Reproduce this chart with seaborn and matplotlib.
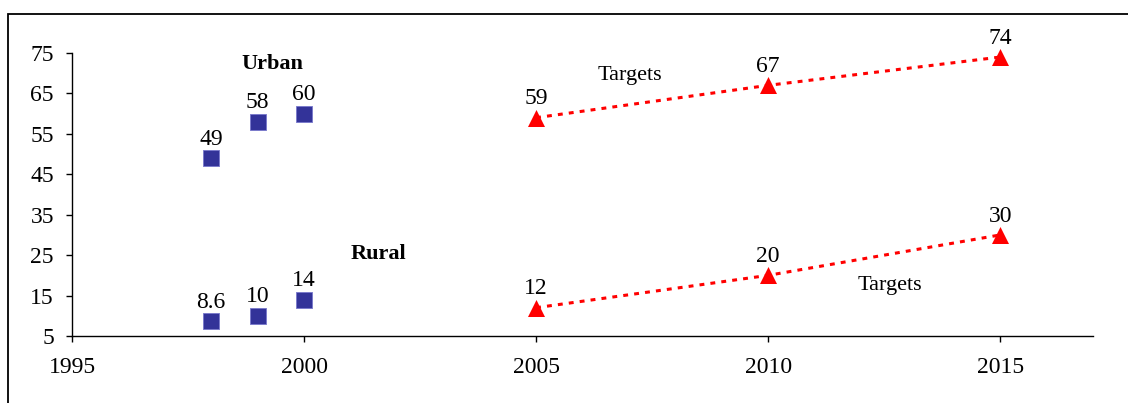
import matplotlib
matplotlib.use("Agg")
import matplotlib.pyplot as plt
import seaborn as sns
import pandas as pd
from matplotlib.patches import Rectangle

# Observed coverage (%)
obs_years = [1998, 1999, 2000]
urban_obs = [49, 58, 60]
rural_obs = [8.6, 10, 14]
obs_labels_urban = ["49", "58", "60"]
obs_labels_rural = ["8.6", "10", "14"]

# Targets (%)
target_years = [2005, 2010, 2015]
urban_target = [59, 67, 74]
rural_target = [12, 20, 30]

x_ticks = [1995, 2000, 2005, 2010, 2015]
y_ticks = [5, 15, 25, 35, 45, 55, 65, 75]

sns.set_theme(style="white")
plt.rcParams["font.family"] = ["Liberation Serif", "DejaVu Serif"]
plt.rcParams["text.color"] = "black"

fig = plt.figure(figsize=(11.28, 4.03), dpi=100)
ax = fig.add_axes([72 / 1128, 1 - 336 / 403, (1093 - 72) / 1128, (336 - 53) / 403])

# outer frame (top and left edges visible)
fig.patches.append(Rectangle((8 / 1128, -0.2), 1.3, 1 - 14 / 403 + 0.2,
                             transform=fig.transFigure, fill=False,
                             edgecolor="black", linewidth=1.3))

obs = pd.DataFrame({"year": obs_years * 2,
                    "value": urban_obs + rural_obs,
                    "area": ["Urban"] * 3 + ["Rural"] * 3})
sns.scatterplot(data=obs, x="year", y="value", ax=ax, marker="s", s=130,
                color="#333399", edgecolor="#7777cc", linewidth=0.6,
                legend=False, zorder=3, clip_on=False)

for ys in (urban_target, rural_target):
    tgt = pd.DataFrame({"year": target_years, "value": ys})
    sns.lineplot(data=tgt, x="year", y="value", ax=ax, color="red",
                 linewidth=2.2, linestyle=(0, (1.6, 2.0)), zorder=2)
    sns.scatterplot(data=tgt, x="year", y="value", ax=ax, marker="^", s=150,
                    color="red", edgecolor="red", linewidth=0, zorder=3,
                    legend=False, clip_on=False)

fs = 17
off = (0, 6)
for x, y, t in zip(obs_years, urban_obs, obs_labels_urban):
    ax.annotate(t, (x, y), xytext=off, textcoords="offset points",
                ha="center", va="bottom", fontsize=fs, color="black")
for x, y, t in zip(obs_years, rural_obs, obs_labels_rural):
    ax.annotate(t, (x, y), xytext=off, textcoords="offset points",
                ha="center", va="bottom", fontsize=fs, color="black")
for x, y in zip(target_years, urban_target):
    ax.annotate(f"{y:g}", (x, y), xytext=off, textcoords="offset points",
                ha="center", va="bottom", fontsize=fs, color="black",
                annotation_clip=False)
for x, y in zip(target_years, rural_target):
    ax.annotate(f"{y:g}", (x, y), xytext=off, textcoords="offset points",
                ha="center", va="bottom", fontsize=fs, color="black")

ax.text(1999.31, 72.3, "Urban", ha="center", va="center", fontsize=fs - 1,
        fontweight="bold", color="black")
ax.text(2001.6, 25.3, "Rural", ha="center", va="center", fontsize=fs - 1,
        fontweight="bold", color="black")
ax.text(2007.03, 69.4, "Targets", ha="center", va="center", fontsize=fs - 1, color="black")
ax.text(2012.63, 17.4, "Targets", ha="center", va="center", fontsize=fs - 1, color="black")

ax.set_xlim(1995, 2017)
ax.set_ylim(5, 75)
ax.set_xticks(x_ticks)
ax.set_yticks(y_ticks)
ax.set_xlabel("")
ax.set_ylabel("")
for side in ("top", "right"):
    ax.spines[side].set_visible(False)
for side in ("left", "bottom"):
    ax.spines[side].set_color("black")
    ax.spines[side].set_linewidth(1.0)
ax.tick_params(axis="both", which="major", direction="out", length=4,
               width=1.0, color="black", labelsize=fs, labelcolor="black",
               left=True, bottom=True)
ax.tick_params(axis="x", pad=11)
ax.tick_params(axis="y", pad=9)
ax.grid(False)

fig.savefig("out.png", dpi=100)
